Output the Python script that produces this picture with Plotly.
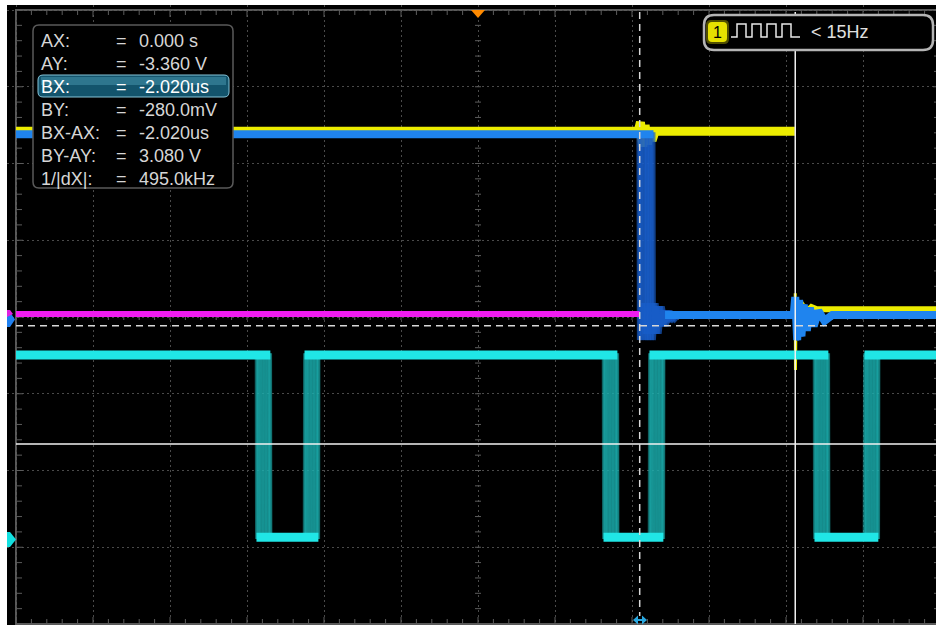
import plotly.graph_objects as go

# ------------------------------------------------------------------
# DATA  (time axis in divisions, 1 us/div, 0 = screen centre;
#        amplitude axis in vertical divisions)
# ------------------------------------------------------------------
US_PER_DIV = 1.0
VOLT_PER_DIV = 2.0

# cursor readout (source CH2)
cursor_labels = ["AX:", "AY:", "BX:", "BY:", "BX-AX:", "BY-AY:", "1/|dX|:"]
cursor_values = ["0.000 s", "-3.360 V", "-2.020us", "-280.0mV", "-2.020us", "3.080 V", "495.0kHz"]
AX_pos_div = 4.12          # screen position of cursor A (AX = 0 s)
BX_minus_AX_us = -2.020
AY_volts = -3.360
BY_volts = -0.280
CH2_ground_div = 0.026     # CH2 offset marker
trigger_label = "< 15Hz"

# CH1 (yellow)
ch1_hi_t = [-6.0, 2.08, 2.11, 2.14, 2.17, 2.20, 2.23, 2.26, 2.30, 4.115]
ch1_hi_v = [2.42, 2.42, 2.54, 2.22, 2.50, 2.25, 2.47, 2.30, 2.42, 2.42]
ch1_edge_t = [4.12, 4.123, 4.127, 4.13, 4.15, 4.18]
ch1_edge_v = [0.31, -0.69, 0.30, 0.02, 0.16, 0.06]
ch1_lo_t = [4.18, 4.22, 4.27, 4.33, 4.40, 5.95]
ch1_lo_v = [0.06, 0.14, 0.07, 0.13, 0.10, 0.10]

# CH2 (blue)
ch2_high = 2.38
ch2_low = CH2_ground_div
ch2_fall = 2.084
ch2_jitter = [0.0, 0.02, 0.04, 0.07, 0.09, 0.11, 0.13, 0.15, 0.17, 0.195]
ch2_ring1_dt = [0.005, 0.04, 0.08, 0.12, 0.17, 0.22, 0.28, 0.34]
ch2_ring1_v = [-0.30, 0.18, -0.22, 0.14, -0.12, 0.08, -0.04, 0.026]
ch2_ring2_t = [4.10, 4.12, 4.145, 4.17, 4.20, 4.23, 4.27, 4.31, 4.36, 4.42, 4.50, 4.60]
ch2_ring2_v = [0.026, 0.26, -0.30, 0.22, -0.25, 0.16, -0.18, 0.12, -0.12, 0.08, -0.05, 0.026]

# magenta channel
mag_t = [-6.0, 2.10]
mag_v = [0.04, 0.04]

# cyan channel (persistence)
cy_high = -0.495
cy_low = -2.87
cy_fall = [-2.877, 1.630, 4.370]
cy_rise = [-2.253, 2.227, 5.019]
cy_jitter = [0.0, 0.015, 0.03, 0.05, 0.07, 0.09, 0.11, 0.13, 0.15, 0.17, 0.18]

# ------------------------------------------------------------------
# geometry helpers for overlay decorations (pixels -> divisions)
# ------------------------------------------------------------------
CX, CY = 478.0, 317.0
PXX, PXY = 77.0, 76.75


def X(px):
    return (px - CX) / PXX


def Y(py):
    return (CY - py) / PXY


def rr_path(x0, y0, x1, y1, r):
    pts = [
        ("M", x0 + r, y0), ("L", x1 - r, y0), ("Q", x1, y0, x1, y0 + r),
        ("L", x1, y1 - r), ("Q", x1, y1, x1 - r, y1), ("L", x0 + r, y1),
        ("Q", x0, y1, x0, y1 - r), ("L", x0, y0 + r), ("Q", x0, y0, x0 + r, y0),
    ]
    s = ""
    for p in pts:
        if p[0] == "Q":
            s += f"Q{X(p[1]):.4f},{Y(p[2]):.4f} {X(p[3]):.4f},{Y(p[4]):.4f} "
        else:
            s += f"{p[0]}{X(p[1]):.4f},{Y(p[2]):.4f} "
    return s + "Z"


def poly_path(pts, close=True):
    s = "M" + " L".join(f"{X(a):.4f},{Y(b):.4f}" for a, b in pts)
    return s + (" Z" if close else "")


fig = go.Figure()

# ---- graticule ticks ----
tx, ty = [], []


def seg(x0, y0, x1, y1):
    tx.extend([x0, x1, None])
    ty.extend([y0, y1, None])


for k in range(-30, 31):
    x = k * 0.2
    L = 7 if k % 5 == 0 else 5
    seg(x, 4, x, 4 - L / PXY)
    seg(x, -4, x, -4 + L / PXY)
    seg(x, -3 / PXY, x, 3 / PXY)
for k in range(-20, 21):
    y = k * 0.2
    L = 7 if k % 5 == 0 else 6
    seg(-6, y, -6 + L / PXX, y)
    seg(6, y, 6 - L / PXX, y)
    seg(-3 / PXX, y, 3 / PXX, y)
fig.add_trace(go.Scatter(x=tx, y=ty, mode="lines", line=dict(color="#5c5c5c", width=1),
                         hoverinfo="skip", showlegend=False))

# ---- CH1 yellow ----
YEL = "#ecec00"
fig.add_trace(go.Scatter(x=ch1_hi_t, y=ch1_hi_v, mode="lines", line=dict(color=YEL, width=9),
                         hoverinfo="skip", showlegend=False))
fig.add_trace(go.Scatter(x=ch1_edge_t, y=ch1_edge_v, mode="lines", line=dict(color=YEL, width=3),
                         hoverinfo="skip", showlegend=False))
fig.add_trace(go.Scatter(x=ch1_lo_t, y=ch1_lo_v, mode="lines", line=dict(color=YEL, width=6),
                         hoverinfo="skip", showlegend=False))

# ---- CH2 blue (persistence sweeps) ----
for j in ch2_jitter:
    f = ch2_fall + j
    xs = [-6.0, f] + [f + d for d in ch2_ring1_dt] + ch2_ring2_t + [5.95]
    ys = [ch2_high, ch2_high] + ch2_ring1_v + ch2_ring2_v + [ch2_low]
    fig.add_trace(go.Scatter(x=xs, y=ys, mode="lines",
                             line=dict(color="rgba(24,92,200,0.7)", width=4),
                             hoverinfo="skip", showlegend=False))
f_max = ch2_fall + max(ch2_jitter)
blue_lvl_x = [-6.0, f_max, None, f_max + 0.15, ch2_ring2_t[0]] + ch2_ring2_t[1:] + [5.95]
blue_lvl_y = [ch2_high, ch2_high, None, ch2_low, ch2_low] + ch2_ring2_v[1:] + [ch2_low]
fig.add_trace(go.Scatter(x=blue_lvl_x, y=blue_lvl_y, mode="lines",
                         line=dict(color="#1f84ee", width=8),
                         hoverinfo="skip", showlegend=False))

# ---- magenta ----
fig.add_trace(go.Scatter(x=mag_t, y=mag_v, mode="lines", line=dict(color="#f01cf0", width=6),
                         hoverinfo="skip", showlegend=False))

# ---- cyan (persistence sweeps) ----
for j in cy_jitter:
    xs, ys = [-6.0], [cy_high]
    for f, r in zip(cy_fall, cy_rise):
        xs += [f + j, f + j + 0.004, r + j, r + j + 0.004]
        ys += [cy_high, cy_low, cy_low, cy_high]
    xs.append(5.95)
    ys.append(cy_high)
    fig.add_trace(go.Scatter(x=xs, y=ys, mode="lines",
                             line=dict(color="rgba(28,175,175,0.55)", width=3.5),
                             hoverinfo="skip", showlegend=False))
jmin, jmax = min(cy_jitter), max(cy_jitter)
lx, ly = [-6.0], [cy_high]
for f, r in zip(cy_fall, cy_rise):
    lx += [f + jmax, None, f + jmin, r + jmax, None, r + jmin]
    ly += [cy_high, None, cy_low, cy_low, None, cy_high]
lx.append(5.95)
ly.append(cy_high)
fig.add_trace(go.Scatter(x=lx, y=ly, mode="lines", line=dict(color="#20e6e6", width=9),
                         hoverinfo="skip", showlegend=False))

# ------------------------------------------------------------------
# shapes: frame, cursors, markers, info boxes
# ------------------------------------------------------------------
BX_pos_div = AX_pos_div + BX_minus_AX_us / US_PER_DIV
AY_pos_div = CH2_ground_div + AY_volts / VOLT_PER_DIV
BY_pos_div = CH2_ground_div + BY_volts / VOLT_PER_DIV

shapes = []
shapes.append(dict(type="rect", x0=-6, x1=6, y0=-4, y1=4, layer="below",
                   line=dict(color="#5a5a5a", width=2)))
# cursors
shapes.append(dict(type="line", x0=-6, x1=X(936), y0=BY_pos_div, y1=BY_pos_div, layer="above",
                   line=dict(color="#d8d8d8", width=1.5, dash="7px,5px")))
shapes.append(dict(type="line", x0=-6, x1=X(936), y0=AY_pos_div, y1=AY_pos_div, layer="above",
                   line=dict(color="#f2f2f2", width=1.5)))
shapes.append(dict(type="line", x0=BX_pos_div, x1=BX_pos_div, y0=Y(12), y1=Y(616), layer="above",
                   line=dict(color="#d8d8d8", width=1.5, dash="7px,5px")))
shapes.append(dict(type="line", x0=AX_pos_div, x1=AX_pos_div, y0=Y(12), y1=Y(624), layer="above",
                   line=dict(color="#f2f2f2", width=1.5)))
# bottom double arrow for cursor B
shapes.append(dict(type="path", path=poly_path([(633, 620), (638, 615.5), (638, 624.5)]),
                   fillcolor="#2aa8e0", line=dict(width=0), layer="above"))
shapes.append(dict(type="path", path=poly_path([(647, 620), (642, 615.5), (642, 624.5)]),
                   fillcolor="#2aa8e0", line=dict(width=0), layer="above"))
shapes.append(dict(type="line", x0=X(636), x1=X(644), y0=Y(620), y1=Y(620), layer="above",
                   line=dict(color="#2aa8e0", width=2)))
# trigger position marker
shapes.append(dict(type="path", path=poly_path([(471, 10), (485, 10), (478, 18)]),
                   fillcolor="#ff8a00", line=dict(width=0), layer="above"))
# channel markers
shapes.append(dict(type="path", path=poly_path([(7, 312), (10, 312), (15, 319.5), (10, 327), (7, 327)]),
                   fillcolor="#1f80f0", line=dict(width=0), layer="above"))
shapes.append(dict(type="path", path=poly_path([(7, 310), (10, 310), (13, 314), (7, 317)]),
                   fillcolor="#e020e0", line=dict(width=0), layer="above"))
shapes.append(dict(type="path", path=poly_path([(7, 532), (10, 532), (16, 539.5), (10, 547), (7, 547)]),
                   fillcolor="#12e0e0", line=dict(width=0), layer="above"))
# cursor info box
shapes.append(dict(type="path", path=rr_path(33, 25, 233, 188, 6), fillcolor="black",
                   line=dict(color="#5a5a5a", width=1.5), layer="above"))
shapes.append(dict(type="path", path=rr_path(38, 75, 229, 97, 5), fillcolor="#13546c",
                   line=dict(color="#86c4d8", width=1), layer="above"))
shapes.append(dict(type="rect", x0=X(41), x1=X(226), y0=Y(77), y1=Y(85), fillcolor="rgba(80,160,185,0.45)",
                   line=dict(width=0), layer="above"))
# trigger box (top right)
shapes.append(dict(type="path", path=rr_path(704, 15, 933, 50, 10), fillcolor="black",
                   line=dict(color="#b4b4b4", width=2.5), layer="above"))
shapes.append(dict(type="path", path=rr_path(706, 20, 729, 44, 5), fillcolor="rgba(230,224,0,0.35)",
                   line=dict(width=0), layer="above"))
shapes.append(dict(type="path", path=rr_path(708, 22, 727, 42, 4), fillcolor="#e6e000",
                   line=dict(width=0), layer="above"))
wave = [(731, 37), (737, 37), (737, 24), (746, 24), (746, 37), (752, 37), (752, 24), (761, 24),
        (761, 37), (767, 37), (767, 24), (776, 24), (776, 37), (782, 37), (782, 24), (791, 24),
        (791, 37), (800, 37)]
shapes.append(dict(type="path", path=poly_path(wave, close=False), line=dict(color="#e8e8e8", width=1.5),
                   layer="above"))

# ------------------------------------------------------------------
# annotations
# ------------------------------------------------------------------
FONT = "Liberation Sans, Arial, sans-serif"
ann = []
for i, (lab, val) in enumerate(zip(cursor_labels, cursor_values)):
    py = 41 + 23 * i
    col = "#ffffff" if lab == "BX:" else "#d6d6d6"
    ann.append(dict(x=X(39), y=Y(py), text=lab, xanchor="left", yanchor="middle", showarrow=False,
                    font=dict(family=FONT, size=18, color=col)))
    ann.append(dict(x=X(114), y=Y(py), text="=", xanchor="left", yanchor="middle", showarrow=False,
                    font=dict(family=FONT, size=18, color=col)))
    ann.append(dict(x=X(137), y=Y(py), text=val, xanchor="left", yanchor="middle", showarrow=False,
                    font=dict(family=FONT, size=18, color=col)))
ann.append(dict(x=X(717.5), y=Y(32.5), text="1", xanchor="center", yanchor="middle", showarrow=False,
                font=dict(family=FONT, size=16, color="#000000")))
ann.append(dict(x=X(809), y=Y(32), text=trigger_label, xanchor="left", yanchor="middle", showarrow=False,
                font=dict(family=FONT, size=18, color="#e0e0e0")))

axis_common = dict(showticklabels=False, ticks="", zeroline=False, showline=False,
                   showgrid=True, gridcolor="#4a4a4a", gridwidth=1, griddash="2px,3px", dtick=1, tick0=0,
                   fixedrange=True)
fig.update_layout(
    width=936, height=625, autosize=False,
    margin=dict(l=7, r=0, t=5, b=0, pad=0),
    paper_bgcolor="white", plot_bgcolor="black",
    xaxis=dict(range=[X(7), X(936)], **axis_common),
    yaxis=dict(range=[Y(625), Y(5)], **axis_common),
    shapes=shapes, annotations=ann, showlegend=False,
)

fig.write_html("out.html")
